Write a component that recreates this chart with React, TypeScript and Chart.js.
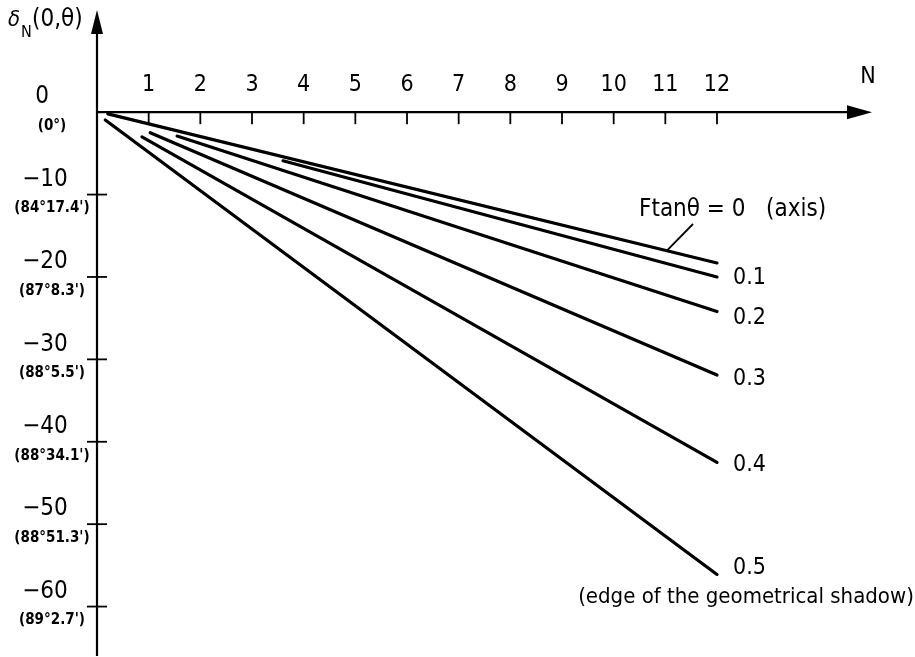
import React, { useEffect, useRef } from "react";
import { Chart, registerables } from "chart.js";

Chart.register(...registerables);

// Curves of delta_N(0, theta) against N, one per value of F·tanθ
const seriesLabels = ["0", "0.1", "0.2", "0.3", "0.4", "0.5"];
const startN = [0.21, 3.6, 1.55, 1.03, 0.87, 0.16];
const startDelta = [-0.2, -5.9, -2.9, -2.5, -3.0, -0.95];
const endN = [12, 12, 12, 12, 12, 12];
const endDelta = [-18.3, -20.0, -24.2, -31.9, -42.5, -56.1];

// Axis ticks
const nTicks = [1, 2, 3, 4, 5, 6, 7, 8, 9, 10, 11, 12];
const deltaTicks = [0, -10, -20, -30, -40, -50, -60];
const deltaTickLabels = ["0", "−10", "−20", "−30", "−40", "−50", "−60"];
const angleTickLabels = [
  "(0°)",
  "(84°17.4')",
  "(87°8.3')",
  "(88°5.5')",
  "(88°34.1')",
  "(88°51.3')",
  "(89°2.7')",
];

// Where the leader of the "axis" label touches its curve
const leaderN = 11.03;
const leaderDelta = -16.8;

const FONT = "'DejaVu Sans Condensed', 'Liberation Sans Narrow', 'Liberation Sans', sans-serif";

const decorations = {
  id: "decorations",
  afterDraw(chart: any) {
    const ctx: CanvasRenderingContext2D = chart.ctx;
    const xs = chart.scales.x;
    const ys = chart.scales.y;
    const x0 = xs.getPixelForValue(0);
    const y0 = ys.getPixelForValue(0);
    const area = chart.chartArea;
    ctx.save();
    ctx.strokeStyle = "#000";
    ctx.fillStyle = "#000";
    ctx.lineCap = "butt";

    // N axis with arrow
    const xEnd = area.right;
    ctx.lineWidth = 2.2;
    ctx.beginPath();
    ctx.moveTo(x0, y0);
    ctx.lineTo(xEnd - 20, y0);
    ctx.stroke();
    ctx.beginPath();
    ctx.moveTo(xEnd, y0);
    ctx.lineTo(xEnd - 25, y0 - 7);
    ctx.lineTo(xEnd - 25, y0 + 7);
    ctx.closePath();
    ctx.fill();

    // delta axis with arrow
    const yTop = area.top;
    ctx.beginPath();
    ctx.moveTo(x0, area.bottom);
    ctx.lineTo(x0, yTop + 18);
    ctx.stroke();
    ctx.beginPath();
    ctx.moveTo(x0, yTop);
    ctx.lineTo(x0 - 6, yTop + 24);
    ctx.lineTo(x0 + 6, yTop + 24);
    ctx.closePath();
    ctx.fill();

    // N ticks and labels
    ctx.lineWidth = 1.8;
    ctx.font = `23px ${FONT}`;
    ctx.textAlign = "center";
    ctx.textBaseline = "middle";
    nTicks.forEach((n) => {
      const px = xs.getPixelForValue(n);
      ctx.beginPath();
      ctx.moveTo(px, y0);
      ctx.lineTo(px, y0 + 12);
      ctx.stroke();
      ctx.fillText(String(n), px, y0 - 27);
    });
    ctx.fillText("N", xEnd - 4, y0 - 35);

    // delta ticks, values and angles
    deltaTicks.forEach((d, i) => {
      const py = ys.getPixelForValue(d);
      if (d !== 0) {
        ctx.beginPath();
        ctx.moveTo(x0 - 10, py);
        ctx.lineTo(x0 + 10, py);
        ctx.stroke();
      }
      ctx.font = `24px ${FONT}`;
      ctx.fillText(deltaTickLabels[i], x0 - (d === 0 ? 55 : 52), py - 15);
      ctx.font = `bold 15px ${FONT}`;
      ctx.fillText(angleTickLabels[i], x0 - 45, py + 14);
    });

    // axis title
    ctx.textAlign = "left";
    ctx.font = `italic 22px ${FONT}`;
    ctx.fillText("δ", 8, 20);
    ctx.font = `16px ${FONT}`;
    ctx.fillText("N", 21, 33);
    ctx.font = `24px ${FONT}`;
    ctx.fillText("(0,θ)", 32, 20);

    // curve labels
    ctx.font = `23px ${FONT}`;
    const labelDy = [0, 1, 6, 4, 3, -6];
    for (let i = 1; i < seriesLabels.length; i++) {
      const py = ys.getPixelForValue(endDelta[i]);
      ctx.fillText(seriesLabels[i], xs.getPixelForValue(12) + 16, py + labelDy[i]);
    }
    ctx.font = `24px ${FONT}`;
    ctx.fillText(`Ftanθ = ${seriesLabels[0]}   (axis)`, 639, 210);
    ctx.font = `22px ${FONT}`;
    ctx.textAlign = "center";
    ctx.fillText("(edge of the geometrical shadow)", 746, 597);

    // leader for the axis curve
    ctx.lineWidth = 1.8;
    ctx.beginPath();
    ctx.moveTo(693, 224);
    ctx.lineTo(xs.getPixelForValue(leaderN), ys.getPixelForValue(leaderDelta));
    ctx.stroke();
    ctx.restore();
  },
};

export default function App() {
  const ref = useRef<HTMLCanvasElement | null>(null);

  useEffect(() => {
    if (!ref.current) return;
    const datasets = seriesLabels.map((label, i) => ({
      label,
      data: [
        { x: startN[i], y: startDelta[i] },
        { x: endN[i], y: endDelta[i] },
      ],
      showLine: true,
      borderColor: "#000",
      backgroundColor: "#000",
      borderWidth: 3.2,
      pointRadius: 0,
      borderCapStyle: "round" as const,
    }));
    const chart = new Chart(ref.current, {
      type: "scatter",
      data: { datasets },
      options: {
        animation: false,
        responsive: false,
        layout: { padding: { left: 97, right: 43, top: 10, bottom: 1 } },
        plugins: { legend: { display: false }, tooltip: { enabled: false } },
        scales: {
          x: { type: "linear", min: 0, max: 15, display: false },
          y: { type: "linear", min: -66, max: 12.4, display: false },
        },
      },
      plugins: [decorations],
    });
    return () => chart.destroy();
  }, []);

  return (
    <div style={{ position: "fixed", left: 0, top: 0, width: 915, height: 657, background: "#fff" }}>
      <canvas ref={ref} width={915} height={657} style={{ width: 915, height: 657 }} />
    </div>
  );
}
